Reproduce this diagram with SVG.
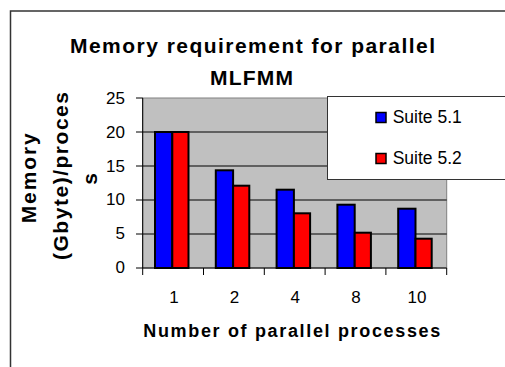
<svg xmlns="http://www.w3.org/2000/svg" width="505" height="367" viewBox="0 0 505 367">
<style>
.t{font-family:"Liberation Sans",Arial,sans-serif;fill:#000}
.b{font-weight:bold}
.tick{font-size:17px}
.grid{stroke:#000;stroke-width:1}
.blue{fill:#0000FF;stroke:#000;stroke-width:2}
.red{fill:#FF0000;stroke:#000;stroke-width:2}
</style>
<rect x="0" y="0" width="505" height="367" fill="#fff"/>
<g id="chart-border"><rect x="10.5" y="11" width="600" height="400" fill="none" stroke="#333" stroke-width="1.5"/></g>
<g id="title">
<text class="t b" x="70" y="53.3" font-size="21" textLength="365">Memory requirement for parallel</text>
<text class="t b" x="210" y="85" font-size="21" textLength="83">MLFMM</text>
</g>
<g id="plot-area">
<rect x="142.7" y="98" width="304" height="170" fill="#C0C0C0" stroke="#808080" stroke-width="1"/>
<line class="grid" x1="142.7" y1="234" x2="446.7" y2="234"/>
<line class="grid" x1="142.7" y1="200" x2="446.7" y2="200"/>
<line class="grid" x1="142.7" y1="166" x2="446.7" y2="166"/>
<line class="grid" x1="142.7" y1="132" x2="446.7" y2="132"/>
</g>
<g id="bars">
<rect class="blue" x="155" y="132" width="17.3" height="136"/>
<rect class="red" x="172.3" y="132" width="16.2" height="136"/>
<rect class="blue" x="215.8" y="170.3" width="17.3" height="97.7"/>
<rect class="red" x="233.1" y="185.7" width="16.2" height="82.3"/>
<rect class="blue" x="276.6" y="189.7" width="17.3" height="78.3"/>
<rect class="red" x="293.9" y="213.3" width="16.2" height="54.7"/>
<rect class="blue" x="337.4" y="204.7" width="17.3" height="63.3"/>
<rect class="red" x="354.7" y="232.7" width="16.2" height="35.3"/>
<rect class="blue" x="398.2" y="208.7" width="17.3" height="59.3"/>
<rect class="red" x="415.5" y="238.7" width="16.2" height="29.3"/>
</g>
<g id="axes" stroke="#000" stroke-width="1">
<line x1="142.7" y1="98" x2="142.7" y2="268"/>
<line x1="142.7" y1="268" x2="446.7" y2="268"/>
<line x1="136" y1="98" x2="142.7" y2="98"/>
<line x1="136" y1="132" x2="142.7" y2="132"/>
<line x1="136" y1="166" x2="142.7" y2="166"/>
<line x1="136" y1="200" x2="142.7" y2="200"/>
<line x1="136" y1="234" x2="142.7" y2="234"/>
<line x1="136" y1="268" x2="142.7" y2="268"/>
<line x1="142.7" y1="268" x2="142.7" y2="275"/>
<line x1="203.5" y1="268" x2="203.5" y2="275"/>
<line x1="264.3" y1="268" x2="264.3" y2="275"/>
<line x1="325.1" y1="268" x2="325.1" y2="275"/>
<line x1="385.9" y1="268" x2="385.9" y2="275"/>
<line x1="446.7" y1="268" x2="446.7" y2="275"/>
</g>
<g id="y-labels" class="t tick" text-anchor="end">
<text x="125" y="103.5">25</text>
<text x="125" y="137.5">20</text>
<text x="125" y="171.5">15</text>
<text x="125" y="205">10</text>
<text x="125" y="239">5</text>
<text x="125" y="272.5">0</text>
</g>
<g id="x-labels" class="t tick" text-anchor="middle">
<text x="174" y="302.7">1</text>
<text x="234.5" y="302.7">2</text>
<text x="295.3" y="302.7">4</text>
<text x="356" y="302.7">8</text>
<text x="417" y="302.7">10</text>
</g>
<g id="y-title" class="t b" font-size="21">
<text transform="translate(36,223.3) rotate(-90)" textLength="90">Memory</text>
<text transform="translate(68,260) rotate(-90)" textLength="168">(Gbyte)/proces</text>
<text transform="translate(97,179) rotate(-90)" text-anchor="middle">s</text>
</g>
<g id="x-title"><text class="t b" x="143.3" y="336.7" font-size="18" textLength="297">Number of parallel processes</text></g>
<g id="legend">
<rect x="327.5" y="96.5" width="200" height="83" fill="#fff" stroke="#333" stroke-width="1"/>
<rect x="376" y="112.5" width="10" height="10" fill="#0000FF" stroke="#000" stroke-width="1.5"/>
<text class="t" x="392.7" y="123.3" font-size="17.5">Suite 5.1</text>
<rect x="376" y="153.5" width="10" height="10" fill="#FF0000" stroke="#000" stroke-width="1.5"/>
<text class="t" x="392.7" y="164" font-size="17.5">Suite 5.2</text>
</g>
</svg>
